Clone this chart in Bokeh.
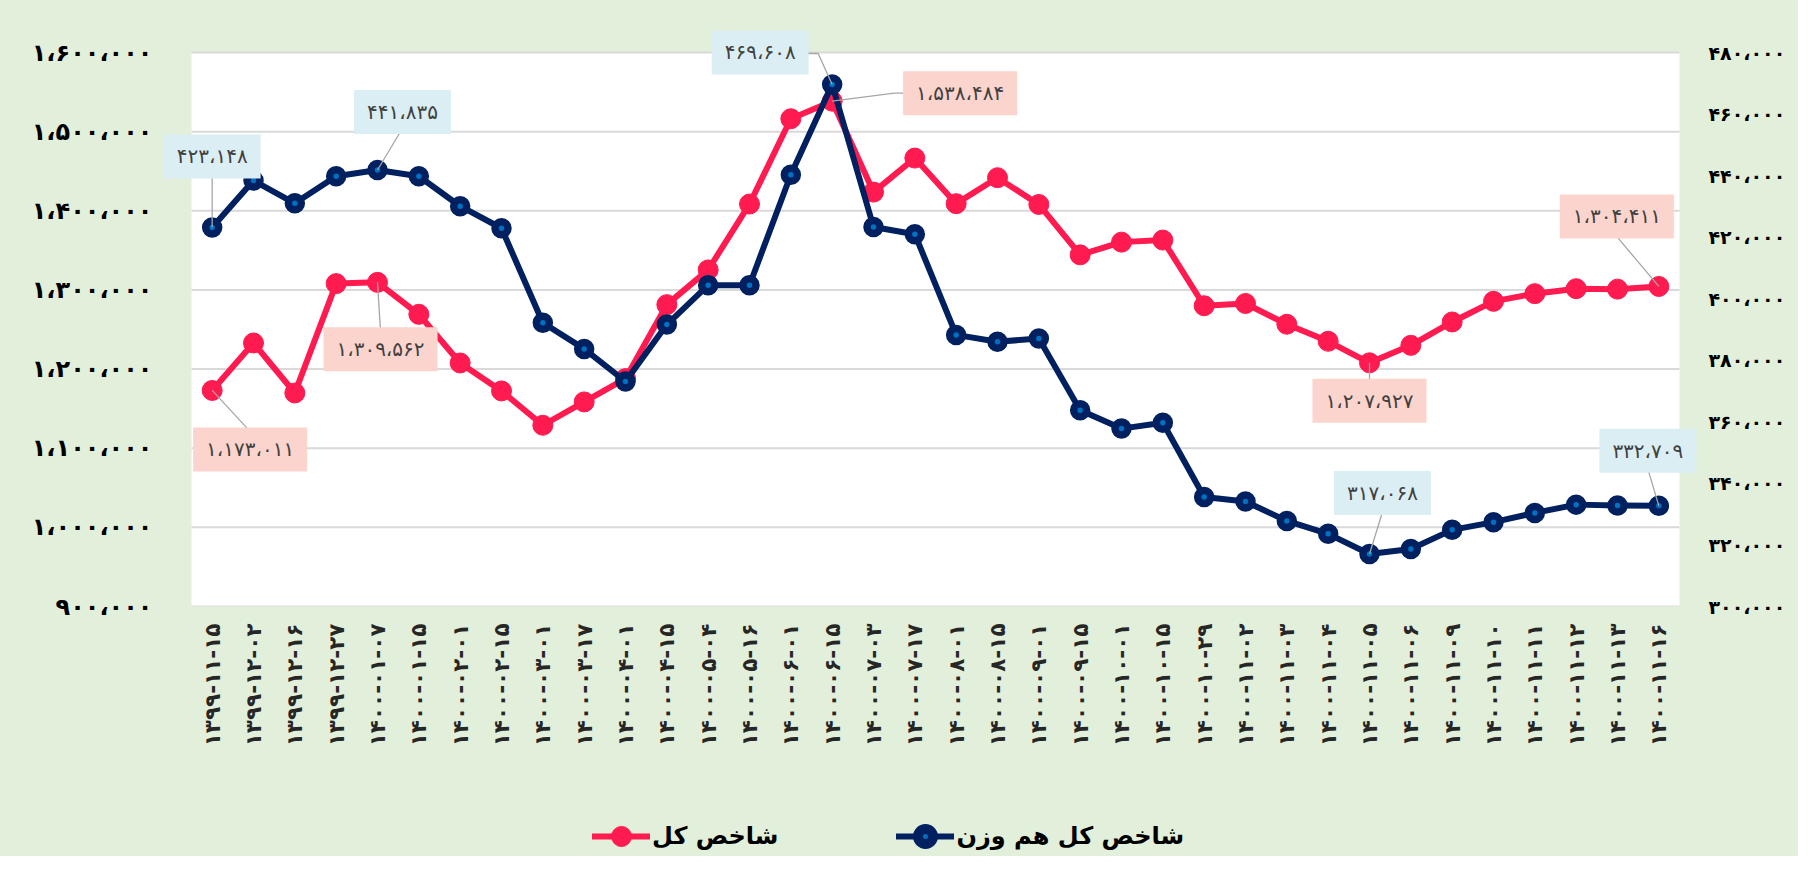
import math
from bokeh.plotting import figure
from bokeh.layouts import column
from bokeh.models import Range1d, LinearAxis, FixedTicker, Legend, LegendItem, Label
from bokeh.embed import file_html
from bokeh.resources import INLINE

# ---------------- data ----------------
dates = ["۱۳۹۹-۱۱-۱۵", "۱۳۹۹-۱۲-۰۲", "۱۳۹۹-۱۲-۱۶", "۱۳۹۹-۱۲-۲۷", "۱۴۰۰-۰۱-۰۷", "۱۴۰۰-۰۱-۱۵",
         "۱۴۰۰-۰۲-۰۱", "۱۴۰۰-۰۲-۱۵", "۱۴۰۰-۰۳-۰۱", "۱۴۰۰-۰۳-۱۷", "۱۴۰۰-۰۴-۰۱", "۱۴۰۰-۰۴-۱۵",
         "۱۴۰۰-۰۵-۰۴", "۱۴۰۰-۰۵-۱۶", "۱۴۰۰-۰۶-۰۱", "۱۴۰۰-۰۶-۱۵", "۱۴۰۰-۰۷-۰۳", "۱۴۰۰-۰۷-۱۷",
         "۱۴۰۰-۰۸-۰۱", "۱۴۰۰-۰۸-۱۵", "۱۴۰۰-۰۹-۰۱", "۱۴۰۰-۰۹-۱۵", "۱۴۰۰-۱۰-۰۱", "۱۴۰۰-۱۰-۱۵",
         "۱۴۰۰-۱۰-۲۹", "۱۴۰۰-۱۱-۰۲", "۱۴۰۰-۱۱-۰۳", "۱۴۰۰-۱۱-۰۴", "۱۴۰۰-۱۱-۰۵", "۱۴۰۰-۱۱-۰۶",
         "۱۴۰۰-۱۱-۰۹", "۱۴۰۰-۱۱-۱۰", "۱۴۰۰-۱۱-۱۱", "۱۴۰۰-۱۱-۱۲", "۱۴۰۰-۱۱-۱۳", "۱۴۰۰-۱۱-۱۶"]

total_index = [1173011, 1233000, 1169800, 1308000, 1309562, 1269200, 1207700, 1172400, 1129000,
               1158500, 1188000, 1281400, 1325300, 1408500, 1516300, 1538484, 1423600, 1466600,
               1409000, 1441800, 1408000, 1344300, 1360400, 1363000, 1280000, 1282900, 1256600,
               1235100, 1207927, 1230000, 1259500, 1285600, 1295300, 1301600, 1301000, 1304411]

equal_weight = [423148, 438400, 431000, 439800, 441835, 439800, 430060, 422900, 392200,
                383700, 373100, 391600, 404400, 404400, 440300, 469608, 423300, 420970,
                388250, 386000, 387100, 363800, 357800, 359700, 335600, 334100, 327800,
                323600, 317068, 318700, 324900, 327400, 330400, 333100, 332800, 332709]

left_ticks = [900000, 1000000, 1100000, 1200000, 1300000, 1400000, 1500000, 1600000]
left_tick_labels = ["۹۰۰،۰۰۰", "۱،۰۰۰،۰۰۰", "۱،۱۰۰،۰۰۰", "۱،۲۰۰،۰۰۰", "۱،۳۰۰،۰۰۰",
                    "۱،۴۰۰،۰۰۰", "۱،۵۰۰،۰۰۰", "۱،۶۰۰،۰۰۰"]
right_ticks = [300000, 320000, 340000, 360000, 380000, 400000, 420000, 440000, 460000, 480000]
right_tick_labels = ["۳۰۰،۰۰۰", "۳۲۰،۰۰۰", "۳۴۰،۰۰۰", "۳۶۰،۰۰۰", "۳۸۰،۰۰۰", "۴۰۰،۰۰۰",
                     "۴۲۰،۰۰۰", "۴۴۰،۰۰۰", "۴۶۰،۰۰۰", "۴۸۰،۰۰۰"]

series_names = ["شاخص کل", "شاخص کل هم وزن"]
red_labeled = [0, 4, 15, 28, 35]
blue_labeled = [0, 4, 15, 28, 35]

FA = str.maketrans("0123456789,", "۰۱۲۳۴۵۶۷۸۹،")


def fa(v):
    return format(int(v), ",").translate(FA)


# ---------------- styles / layout ----------------
RED = "#FF1A4F"
NAVY = "#002060"
DOT = "#0070C0"
GREEN_BG = "#E2EFDA"
GRID = "#D9D9D9"
FONT = "DejaVu Sans"
W, H = 1798, 856
H_LEG = 86                            # legend strip below the chart
HP = H - H_LEG
PW, PH = 1488, 554                    # white plot area
PAD_L, PAD_T, PAD_R = 30, 22, 20      # extra frame room so data labels are not clipped
ML, MT = 161, 30
FW, FH = PW + PAD_L + PAD_R, PH + PAD_T
MR = W - ML - FW
MB = HP - MT - FH
BG_CSS = {"background-color": GREEN_BG}

# annotation layout (screen px relative to the point: box centre, leader polyline)
red_ann = [((38, 59), [(0, 0), (37, 40)]),
           ((3, 67), [(0, 0), (3, 48)]),
           ((128, -8), [(0, 0), (62, -8), (74, -8)]),
           ((0, 38), [(0, 0), (0, 20)]),
           ((-42, -70), [(0, 0), (-43, -51)])]
blue_ann = [((0, -71), [(0, 0), (0, -53)]),
            ((25, -58), [(0, 0), (24, -40)]),
            ((-72, -32), [(0, 0), (-14, -31), (-25, -31)]),
            ((13, -61), [(0, 0), (13, -42)]),
            ((-11, -55), [(0, 0), (-11, -37)])]

n = len(dates)
xs = list(range(n))
px_x = PW / n
x_lo, x_hi = -0.5 - PAD_L / px_x, n - 0.5 + PAD_R / px_x
yl_lo, yl_top = left_ticks[0], left_ticks[-1]
yr_lo, yr_top = right_ticks[0], right_ticks[-1]
yl_hi = yl_top + PAD_T * (yl_top - yl_lo) / PH
yr_hi = yr_top + PAD_T * (yr_top - yr_lo) / PH

p = figure(width=W, height=HP, x_range=Range1d(x_lo, x_hi), y_range=Range1d(yl_lo, yl_hi),
           output_backend="svg", toolbar_location=None,
           min_border_left=ML, min_border_right=MR, min_border_top=MT, min_border_bottom=MB,
           background_fill_color=GREEN_BG, border_fill_color=GREEN_BG, outline_line_color=None,
           styles=BG_CSS)
p.extra_y_ranges = {"right": Range1d(yr_lo, yr_hi)}
p.xgrid.grid_line_color = None
p.ygrid.grid_line_color = None

# white plot area and its gridlines
p.quad(left=[-0.5], right=[n - 0.5], bottom=[yl_lo], top=[yl_top], fill_color="white", line_color=None)
p.segment(x0=[-0.5] * len(left_ticks), x1=[n - 0.5] * len(left_ticks), y0=left_ticks, y1=left_ticks,
          line_color=GRID, line_width=2)

# axes
p.xaxis.ticker = FixedTicker(ticks=xs)
p.xaxis.major_label_overrides = {i: d for i, d in enumerate(dates)}
p.xaxis.major_label_orientation = math.pi / 2
p.yaxis.ticker = FixedTicker(ticks=left_ticks)
p.yaxis.major_label_overrides = {t: l for t, l in zip(left_ticks, left_tick_labels)}
p.add_layout(LinearAxis(y_range_name="right", ticker=FixedTicker(ticks=right_ticks),
                        major_label_overrides={t: l for t, l in zip(right_ticks, right_tick_labels)}),
             "right")
for ax in p.axis:
    ax.axis_line_color = None
    ax.major_tick_line_color = None
    ax.minor_tick_line_color = None
    ax.major_tick_out = 0
    ax.major_tick_in = 0
    ax.major_label_text_font = FONT
    ax.major_label_text_font_style = "bold"
    ax.major_label_text_color = "black"
p.xaxis.major_label_text_font_size = "21.5px"
p.xaxis.major_label_standoff = 17
p.xaxis.major_label_text_color = "#262626"
p.yaxis[0].major_label_text_font_size = "24px"
p.yaxis[0].major_label_standoff = 9
p.yaxis[1].major_label_text_font_size = "19px"
p.yaxis[1].major_label_standoff = 9

# series
r_line = p.line(xs, total_index, line_color=RED, line_width=6, line_join="round")
r_pts = p.scatter(xs, total_index, size=20, fill_color=RED, line_color=RED)
b_line = p.line(xs, equal_weight, line_color=NAVY, line_width=6, line_join="round", y_range_name="right")
b_pts = p.scatter(xs, equal_weight, size=13, fill_color=DOT, line_color=NAVY, line_width=7.5,
                  y_range_name="right")


# data labels with leader lines
def leaders(idx, vals, anns, lo, hi):
    py = PH / (hi - lo)
    lx, ly = [], []
    for i, (_, path) in zip(idx, anns):
        lx.append([i + dx / px_x for dx, dy in path])
        ly.append([vals[i] - dy / py for dx, dy in path])
    return lx, ly


lx, ly = leaders(red_labeled, total_index, red_ann, yl_lo, yl_top)
p.multi_line(lx, ly, line_color="#A6A6A6", line_width=1.3)
lx, ly = leaders(blue_labeled, equal_weight, blue_ann, yr_lo, yr_top)
p.multi_line(lx, ly, line_color="#A6A6A6", line_width=1.3, y_range_name="right")

PAD = dict(left=13, right=13, top=10, bottom=10)
for i, ((dx, dy), _) in zip(red_labeled, red_ann):
    p.add_layout(Label(x=i, y=total_index[i], x_offset=dx, y_offset=-dy, text=fa(total_index[i]),
                       text_align="center", text_baseline="middle", text_font=FONT,
                       text_font_size="20px", text_color="#404040",
                       background_fill_color="#FBD5CD", padding=PAD))
for i, ((dx, dy), _) in zip(blue_labeled, blue_ann):
    p.add_layout(Label(x=i, y=equal_weight[i], x_offset=dx, y_offset=-dy, text=fa(equal_weight[i]),
                       text_align="center", text_baseline="middle", text_font=FONT,
                       text_font_size="20px", text_color="#404040",
                       background_fill_color="#DAEEF3", y_range_name="right", padding=PAD))

# ---------------- legend strip (its renderers use the data but lie outside its view) ----------------
q = figure(width=W, height=H_LEG, x_range=Range1d(0, 1), y_range=Range1d(0, 1),
           output_backend="svg", toolbar_location=None, x_axis_type=None, y_axis_type=None,
           min_border_left=0, min_border_right=0, min_border_top=0, min_border_bottom=0,
           background_fill_color=GREEN_BG, border_fill_color=GREEN_BG, outline_line_color=None,
           styles=BG_CSS)
q.xgrid.visible = False
q.ygrid.visible = False
lr_line = q.line(xs, total_index, line_color=RED, line_width=6, line_cap="round")
lr_pts = q.scatter(xs, total_index, size=20, fill_color=RED, line_color=RED)
lb_line = q.line(xs, equal_weight, line_color=NAVY, line_width=6, line_cap="round")
lb_ring = q.scatter(xs, equal_weight, size=20, fill_color=NAVY, line_color=NAVY, line_width=5)
lb_dot = q.scatter(xs, equal_weight, marker="dot", size=20, line_color=DOT, fill_color=DOT)
legend = Legend(items=[LegendItem(label=series_names[0], renderers=[lr_line, lr_pts]),
                       LegendItem(label=series_names[1], renderers=[lb_line, lb_ring, lb_dot])],
                location=(431, -5), orientation="horizontal",
                background_fill_alpha=0, border_line_color=None,
                label_text_font=FONT, label_text_font_size="24px", label_text_font_style="bold",
                label_text_color="black", glyph_width=58, glyph_height=50,
                spacing=118, label_standoff=2, padding=0, margin=0)
q.add_layout(legend, "center")

open("out.html", "w").write(file_html(column(p, q, spacing=0, styles=BG_CSS), INLINE))
